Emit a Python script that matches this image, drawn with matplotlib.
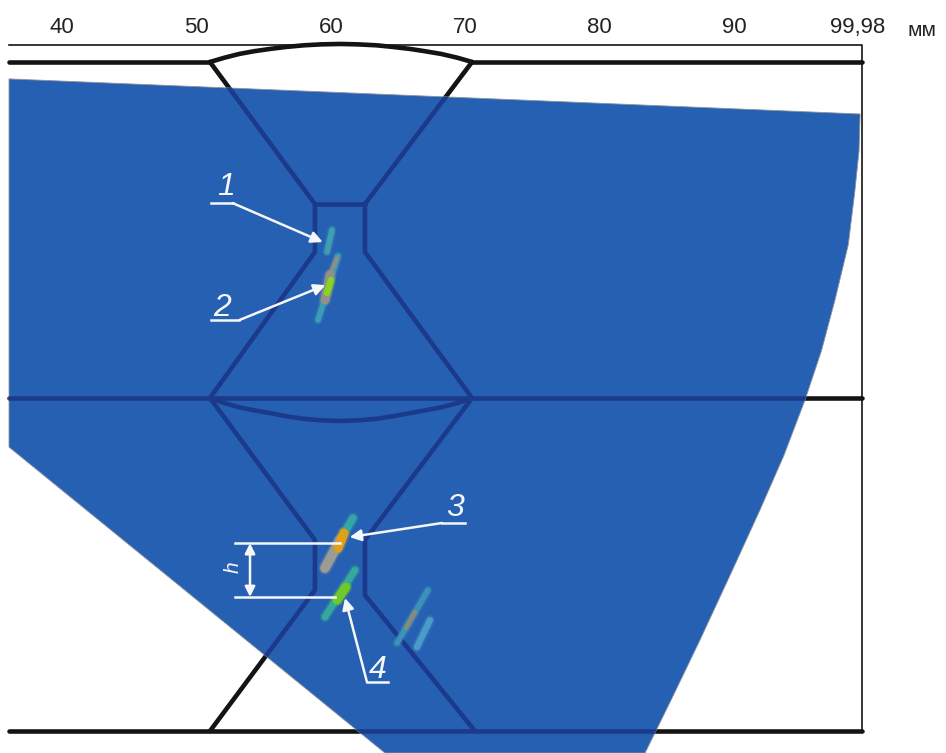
import matplotlib
matplotlib.use('Agg')
import matplotlib.pyplot as plt
from matplotlib.patches import Polygon

plt.rcParams['font.family'] = ['Liberation Sans', 'DejaVu Sans']

# Everything below is in mm: x along the scale, y is depth from the upper surface
tick_values = [40, 50, 60, 70, 80, 90, 99.23]
tick_labels = ['40', '50', '60', '70', '80', '90', '99,98']
unit_label = 'мм'

# Scanned area
scan_x = [36.06, 99.38, 99.3, 99.0, 98.5, 97.51, 96.5, 95.28, 93.7, 91.93, 89.7, 87.47, 85.4, 83.38, 64.03, 36.06]
scan_y = [1.26, 3.87, 6.6, 9.52, 13.6, 17.71, 21.5, 25.15, 29.3, 33.33, 38.2, 43.0, 47.3, 51.41, 51.41, 28.65]

# Frame and plate surfaces
frame_x = [36.06, 99.52, 99.52]
frame_y = [-1.26, -1.26, 49.78]
top_left_x, top_right_x = [36.06, 51.01], [70.51, 99.52]
surface_y = [0, 0]
mid_x, mid_y = [36.06, 99.52], [25, 25]
bottom_x, bottom_y = [36.06, 99.52], [49.78, 49.78]

# Weld outline
cap_x = [51.01, 52.1, 53.2, 54.3, 55.48, 56.7, 58, 59.3, 60.68, 62.0, 63.4, 64.6, 65.89, 67.0, 68.2, 69.4, 70.51]
cap_y = [0, -0.32, -0.6, -0.8, -0.97, -1.12, -1.24, -1.31, -1.34, -1.31, -1.24, -1.12, -0.97, -0.8, -0.6, -0.32, 0]
root_y = [25, 25.38, 25.7, 25.92, 26.12, 26.36, 26.55, 26.66, 26.71, 26.66, 26.55, 26.36, 26.12, 25.92, 25.7, 25.38, 25]
upper_weld_x = [51.01, 58.82, 58.82, 51.01]
upper_weld_y = [0, 10.57, 14.14, 25]
upper_weld2_x = [70.51, 62.54, 62.54, 70.51]
upper_weld2_y = [0, 10.57, 14.14, 25]
land_x, land_y = [58.82, 62.54], [10.57, 10.57]
lower_weld_x = [51.01, 58.82, 58.82, 51.01]
lower_weld_y = [25, 35.57, 39.29, 49.78]
lower_weld2_x = [70.51, 62.54, 62.54, 70.73]
lower_weld2_y = [25, 35.57, 39.66, 49.78]

# Indications: (x pair, y pair, colour, width)
indications = [
    ([60.09, 59.72], [12.5, 14.14], '#3f9fb0', 4.0),
    ([60.54, 59.05], [14.43, 19.2], '#3a9db5', 4.0),
    ([60.46, 59.94], [14.58, 15.85], '#8a8f8c', 3.0),
    ([59.94, 59.57], [15.85, 17.71], '#93908a', 6.5),
    ([60.01, 59.72], [16.22, 17.19], '#84d61f', 4.5),
    ([61.65, 60.68], [33.93, 35.57], '#35a6a8', 5.5),
    ([60.68, 59.57], [35.57, 37.65], '#9c9c94', 7.0),
    ([60.98, 60.54], [35.04, 36.16], '#e0a018', 6.5),
    ([61.8, 59.57], [37.8, 41.29], '#35a89c', 5.0),
    ([61.13, 60.46], [39.06, 40.03], '#72c828', 6.5),
    ([67.23, 64.93], [39.29, 43.23], '#3b92b8', 4.0),
    ([66.27, 65.6], [40.92, 42.11], '#8a8a78', 3.0),
    ([67.38, 66.41], [41.52, 43.53], '#4a9cc8', 4.5),
]

# Numbered callouts: label, label position, shelf start, shelf end, arrow tip
callouts = [
    ('1', (52.2, 9.3), (51.08, 10.5), (52.7, 10.5), (59.4, 13.4)),
    ('2', (51.9, 18.3), (51.08, 19.2), (53.2, 19.2), (59.6, 16.6)),
    ('3', (69.24, 33.18), (69.99, 34.3), (68.27, 34.3), (61.4, 35.35)),
    ('4', (63.5, 45.2), (64.26, 46.13), (62.69, 46.13), (61.06, 39.88)),
]

# Height marker h
h_top_y, h_bottom_y = 35.8, 39.8
h_arrow_x = 53.99
h_top_x = [52.87, 60.68]
h_bottom_x = [52.87, 60.31]

blue = '#2660b2'
navy = '#1c3a8c'
black = '#141414'
white = '#f4f6f8'

fig = plt.figure(figsize=(9.46, 7.53), dpi=100)
ax = fig.add_axes([0, 0, 1, 1])
ax.set_xlim(35.39, 105.77)
ax.set_ylim(51.41, -4.61)
ax.axis('off')

weld_lines = [
    (cap_x, cap_y), (cap_x, root_y),
    (upper_weld_x, upper_weld_y), (upper_weld2_x, upper_weld2_y), (land_x, land_y),
    (lower_weld_x, lower_weld_y), (lower_weld2_x, lower_weld2_y),
]
plate_lines = [
    (top_left_x, surface_y), (top_right_x, surface_y),
    (mid_x, mid_y), (bottom_x, bottom_y),
]

# Black drawing sits under the scan, a navy copy shows through it
for xs, ys in weld_lines + plate_lines:
    ax.plot(xs, ys, color=black, lw=3.3, zorder=1, solid_capstyle='round')
ax.plot(frame_x, frame_y, color=black, lw=1.2, zorder=1)

scan = Polygon(list(zip(scan_x, scan_y)), closed=True, facecolor=blue,
               edgecolor='#8d939c', lw=0.6, zorder=2)
ax.add_patch(scan)

for xs, ys in weld_lines + plate_lines:
    line, = ax.plot(xs, ys, color=navy, lw=3.3, zorder=3, solid_capstyle='round')
    line.set_clip_path(scan)

# Soft halo under each indication, the scan image is blurred
for xs, ys, colour, width in indications:
    ax.plot(xs, ys, color=colour, lw=width + 2.5, alpha=0.3, zorder=4, solid_capstyle='round')
for xs, ys, colour, width in indications:
    ax.plot(xs, ys, color=colour, lw=width, zorder=4, solid_capstyle='round')

for label, pos, start, end, tip in callouts:
    ax.plot([start[0], end[0]], [start[1], end[1]], color=white, lw=1.8, zorder=5)
    ax.annotate('', xy=tip, xytext=end, zorder=5,
                arrowprops=dict(arrowstyle='-|>', color=white, lw=1.8,
                                mutation_scale=17, shrinkA=0, shrinkB=0))
    ax.text(pos[0], pos[1], label, color=white, fontsize=23, style='italic',
            ha='center', va='center', zorder=5)

ax.plot(h_top_x, [h_top_y, h_top_y], color=white, lw=1.8, zorder=5)
ax.plot(h_bottom_x, [h_bottom_y, h_bottom_y], color=white, lw=1.8, zorder=5)
ax.annotate('', xy=(h_arrow_x, h_top_y), xytext=(h_arrow_x, h_bottom_y), zorder=5,
            arrowprops=dict(arrowstyle='<|-|>', color=white, lw=1.8,
                            mutation_scale=15, shrinkA=0, shrinkB=0))
ax.text(52.72, 37.57, 'h', color=white, fontsize=15, style='italic', rotation=90,
        ha='center', va='center', zorder=5)

for value, label in zip(tick_values, tick_labels):
    ax.text(value, -2.55, label, color='#222222', fontsize=16, ha='center', va='center')
ax.text(104.0, -2.35, unit_label, color='#222222', fontsize=15, ha='center', va='center')

fig.savefig('out.png', dpi=100)
